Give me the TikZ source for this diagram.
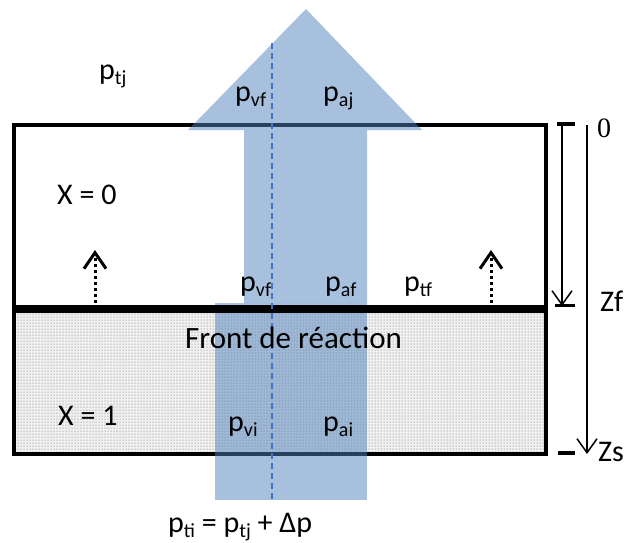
\documentclass[tikz,border=0pt]{standalone}
\usepackage{fontspec}
\setmainfont{Carlito}
\newfontfamily\zerofont{Liberation Serif}
\usetikzlibrary{arrows.meta,patterns}
\newcommand{\sbx}[1]{\raisebox{-5pt}{\fontsize{20}{20}\selectfont #1}}
\definecolor{arrowblue}{HTML}{4F81BD}
\definecolor{dashblue}{HTML}{4472C4}
\tikzset{
  lbl/.style={anchor=base west, inner sep=0pt, font=\fontsize{30}{36}\selectfont},
  frame/.style={draw=black, line width=4pt},
  blueshape/.style={fill=arrowblue, fill opacity=0.5, draw=none},
  dotarrow/.style={line width=3pt, dash pattern=on 3pt off 3pt, -{Straight Barb[length=16pt,width=22pt,line width=3pt]}},
  scalearrow/.style={line width=1.5pt, -{Straight Barb[length=14pt,width=20pt,line width=1.5pt]}},
  tick/.style={line width=3.5pt}
}
\begin{document}
\begin{tikzpicture}[x=1pt,y=-1pt]
\useasboundingbox (0,0) rectangle (626,542);
% lower zone fill
\fill[black!6] (14,309) rectangle (546,454);
\fill[pattern=dots, pattern color=black!60] (14,309) rectangle (546,454);
% frame
\draw[frame] (14,125) rectangle (546,454);
% blue arrow and lower band
\fill[blueshape] (306,9) -- (422,130) -- (367,130) -- (367,303) -- (244,303) -- (244,130) -- (188,130) -- cycle;
\fill[blueshape] (215,303) rectangle (367,500);
% front line
\draw[line width=8pt] (14,309) -- (546,309);
% dashed axis
\coordinate (dtop) at (272,43);
\coordinate (dbot) at (272,500);
\draw[dashblue, line width=2pt, dash pattern=on 6pt off 4pt] (dtop) -- (dbot);
% dotted arrows
\coordinate (a1s) at (95,303);
\coordinate (a1e) at (95,250);
\coordinate (a2s) at (491,303);
\coordinate (a2e) at (491,250);
\draw[dotarrow] (a1s) -- (a1e);
\draw[dotarrow] (a2s) -- (a2e);
% scale
\coordinate (t0l) at (557,124);
\coordinate (t0r) at (575,124);
\coordinate (sa) at (562,124);
\coordinate (sb) at (562,306);
\coordinate (bfl) at (555,305);
\coordinate (bfr) at (575,305);
\coordinate (la) at (587,125);
\coordinate (lb) at (587,454);
\coordinate (bsl) at (558,453);
\coordinate (bsr) at (575,453);
\draw[tick] (t0l) -- (t0r);
\draw[scalearrow] (sa) -- (sb);
\draw[line width=3pt] (bfl) -- (bfr);
\draw[scalearrow] (la) -- (lb);
\draw[tick] (bsl) -- (bsr);
% labels
\node[lbl] (ptj) at (99,79) {p\sbx{tj}};
\node[lbl] (pvft) at (235,101) {p\sbx{vf}};
\node[lbl] (paj) at (323,101) {p\sbx{aj}};
\node[lbl] (x0) at (57,204) {X = 0};
\node[lbl] (pvf) at (240,291) {p\sbx{vf}};
\node[lbl] (paf) at (325,291) {p\sbx{af}};
\node[lbl] (ptf) at (404,291) {p\sbx{tf}};
\node[lbl, font=\fontsize{31}{36}\selectfont] (front) at (185,348) {Front de réaction};
\node[lbl] (x1) at (58,425) {X = 1};
\node[lbl] (pvi) at (228,431) {p\sbx{vi}};
\node[lbl] (pai) at (323,431) {p\sbx{ai}};
\node[lbl] (eq) at (168,532) {p\sbx{ti} = p\sbx{tj} + Δp};
\node[anchor=base west, inner sep=0pt, font=\zerofont\fontsize{28}{30}\selectfont] (zero) at (597,137) {0};
\node[lbl] (zf) at (600,311) {Zf};
\node[lbl] (zs) at (598,461) {Zs};
\end{tikzpicture}
\end{document}
